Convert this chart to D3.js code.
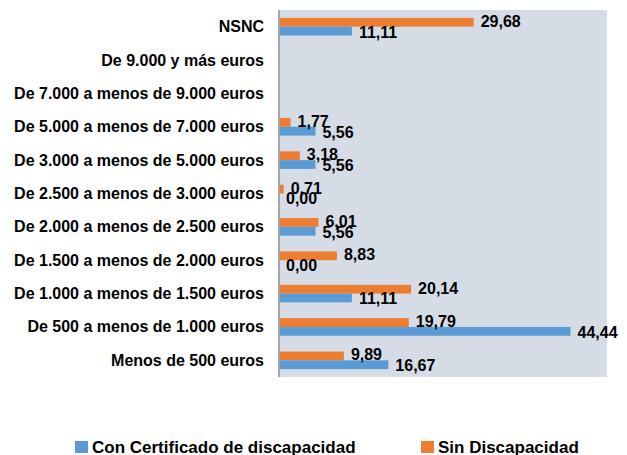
<!DOCTYPE html>
<html>
<head>
<meta charset="utf-8">
<script src="https://cdn.jsdelivr.net/npm/d3@7.9.0/dist/d3.min.js"></script>
<style>
  body { margin: 0; background: #fff; }
  text { font-family: "Liberation Sans", Arial, sans-serif; font-weight: bold; fill: #000; }
</style>
</head>
<body>
<svg width="627" height="455"></svg>
<script>
const categories = [
  "NSNC",
  "De 9.000 y más euros",
  "De 7.000 a menos de 9.000 euros",
  "De 5.000 a menos de 7.000 euros",
  "De 3.000 a menos de 5.000 euros",
  "De 2.500 a menos de 3.000 euros",
  "De 2.000 a menos de 2.500 euros",
  "De 1.500 a menos de 2.000 euros",
  "De 1.000 a menos de 1.500 euros",
  "De 500 a menos de 1.000 euros",
  "Menos de 500 euros"
];
// null = no data shown
const sinDiscapacidad = [29.68, null, null, 1.77, 3.18, 0.71, 6.01, 8.83, 20.14, 19.79, 9.89];
const conCertificado  = [11.11, null, null, 5.56, 5.56, 0.00, 5.56, 0.00, 11.11, 44.44, 16.67];

const seriesNames = ["Sin Discapacidad", "Con Certificado de discapacidad"];
const colors = {
  "Sin Discapacidad": "#ED7D31",
  "Con Certificado de discapacidad": "#5B9BD5"
};

const svg = d3.select("svg"),
      margin = {top: 10, right: 20, bottom: 78, left: 278},
      width = 627 - margin.left - margin.right,
      height = 455 - margin.top - margin.bottom,
      g = svg.append("g").attr("transform", `translate(${margin.left},${margin.top})`);

const x = d3.scaleLinear().domain([0, 50]).range([1, width]);
const y = d3.scaleBand().domain(categories).range([0, height]);
const ySub = d3.scaleBand().domain(seriesNames).range([y.bandwidth() / 2 - 8.8, y.bandwidth() / 2 + 8.8]);

// plot background
g.append("rect")
  .attr("width", width)
  .attr("height", height)
  .attr("fill", "#D6DCE5");

const rows = categories.map((c, i) => ({
  cat: c,
  values: [
    {name: seriesNames[0], v: sinDiscapacidad[i]},
    {name: seriesNames[1], v: conCertificado[i]}
  ]
}));

const row = g.selectAll(".row").data(rows).join("g")
  .attr("class", "row")
  .attr("transform", d => `translate(0,${y(d.cat)})`);

row.selectAll("rect").data(d => d.values.filter(e => e.v != null)).join("rect")
  .attr("x", x(0))
  .attr("y", d => ySub(d.name))
  .attr("width", d => x(d.v) - x(0))
  .attr("height", ySub.bandwidth())
  .attr("fill", d => colors[d.name]);

const fmt = v => v.toFixed(2).replace(".", ",");

row.selectAll(".val").data(d => d.values.filter(e => e.v != null)).join("text")
  .attr("class", "val")
  .attr("x", d => x(d.v) + 7)
  .attr("y", d => ySub(d.name) + ySub.bandwidth() / 2 + (d.name === seriesNames[0] ? -1 : 1))
  .attr("dominant-baseline", "central")
  .style("font-size", "16px")
  .text(d => fmt(d.v));

// axis line
g.append("line")
  .attr("x1", 1).attr("x2", 1)
  .attr("y1", 0).attr("y2", height)
  .attr("stroke", "#A6A6A6")
  .attr("stroke-width", 2);

// category labels
g.selectAll(".cat").data(categories).join("text")
  .attr("class", "cat")
  .attr("x", -14)
  .attr("y", d => y(d) + y.bandwidth() / 2)
  .attr("dominant-baseline", "central")
  .attr("text-anchor", "end")
  .style("font-size", "16px")
  .text(d => d);

// legend
const legendItems = [
  {name: "Con Certificado de discapacidad", x: 75},
  {name: "Sin Discapacidad", x: 421}
];
const legend = svg.append("g");
legendItems.forEach(d => {
  legend.append("rect")
    .attr("x", d.x).attr("y", 441)
    .attr("width", 13).attr("height", 12)
    .attr("fill", colors[d.name]);
  legend.append("text")
    .attr("x", d.x + 17).attr("y", 447)
    .attr("dominant-baseline", "central")
    .style("font-size", "17px")
    .text(d.name);
});
</script>
</body>
</html>
